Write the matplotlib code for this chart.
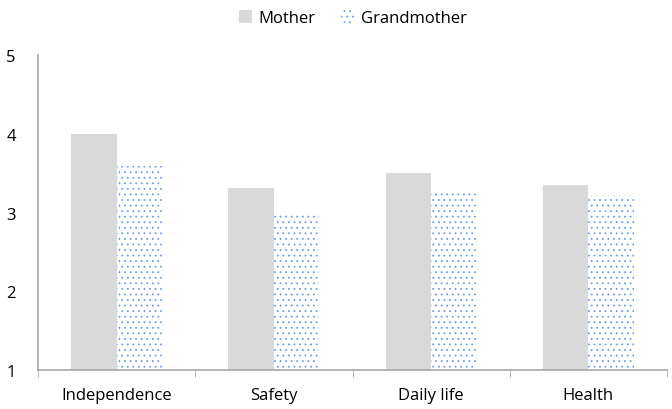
import numpy as np
import matplotlib.pyplot as plt
from matplotlib.ticker import FixedLocator

categories = ["Independence", "Safety", "Daily life", "Health"]
mother = [4.0, 3.31, 3.50, 3.35]
grandmother = [3.59, 2.98, 3.26, 3.22]

plt.rcParams['font.family'] = ['Open Sans', 'DejaVu Sans']
plt.rcParams['hatch.linewidth'] = 0.6

W, H = 672, 410
fig = plt.figure(figsize=(W / 100, H / 100), dpi=100)
ax = fig.add_axes([38 / W, 1 - 371 / H, 629 / W, (371 - 56) / H])

x = np.arange(len(categories))
bw = 0.29
ax.bar(x - bw / 2, np.array(mother) - 1, bw, bottom=1, color='#D9D9D9',
       label='Mother', zorder=2)
ax.bar(x + bw / 2, np.array(grandmother) - 1, bw, bottom=1, color='white',
       edgecolor='#6A9FE4', hatch='...', linewidth=0, label='Grandmother',
       zorder=2)

ax.set_xlim(-0.5, len(categories) - 0.5)
ax.set_ylim(1, 5)
ax.set_yticks([1, 2, 3, 4, 5])
ax.set_xticks(x)
ax.set_xticklabels(categories, fontsize=12)
ax.xaxis.set_minor_locator(FixedLocator(np.arange(-0.5, len(categories), 1)))
ax.tick_params(axis='x', which='major', length=0, pad=12)
ax.tick_params(axis='x', which='minor', length=5, color='#A6A6A6')
ax.tick_params(axis='y', length=0, labelsize=12, pad=16)

for s in ['top', 'right']:
    ax.spines[s].set_visible(False)
for s in ['left', 'bottom']:
    ax.spines[s].set_color('#A6A6A6')
    ax.spines[s].set_linewidth(1.2)

ax.legend(loc='upper center', bbox_to_anchor=(0.5, 1.19), ncol=2, frameon=False,
          fontsize=12, handlelength=0.8, handleheight=0.8, columnspacing=1.5,
          handletextpad=0.4)

fig.savefig('out.png', dpi=100)
